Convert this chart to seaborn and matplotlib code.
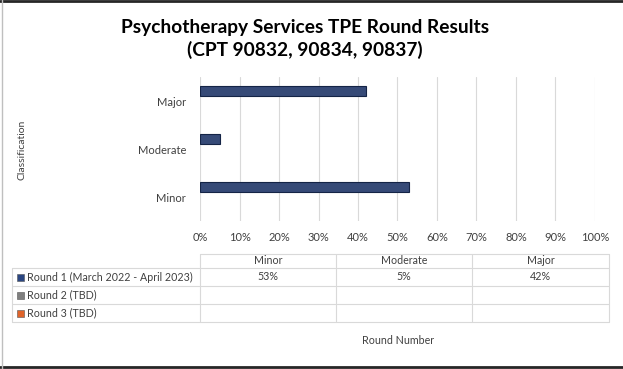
import matplotlib
matplotlib.use("Agg")
import matplotlib.pyplot as plt
from matplotlib.lines import Line2D
from matplotlib.ticker import PercentFormatter
import seaborn as sns
import pandas as pd
import numpy as np

# data
categories = ["Minor", "Moderate", "Major"]
rounds = ["Round 1 (March 2022 - April 2023)", "Round 2 (TBD)", "Round 3 (TBD)"]
round1 = [53, 5, 42]
round2 = [np.nan, np.nan, np.nan]
round3 = [np.nan, np.nan, np.nan]
round_colors = ["#2b4682", "#7f7f7f", "#e0642a"]

df = pd.DataFrame({
    "Classification": categories * 3,
    "Round": [rounds[0]] * 3 + [rounds[1]] * 3 + [rounds[2]] * 3,
    "Pct": round1 + round2 + round3,
})

sns.set_theme(style="white")
plt.rcParams["font.family"] = ["Lato", "DejaVu Sans"]

W, H = 623, 369
fig = plt.figure(figsize=(W / 100, H / 100), dpi=100)
ax = fig.add_axes([200 / W, 1 - 221 / H, 395 / W, 144 / H])

sns.barplot(data=df, y="Classification", x="Pct", hue="Round",
            order=categories[::-1], hue_order=rounds, palette=round_colors,
            width=0.63, orient="h", edgecolor="#142446", linewidth=0.8,
            legend=False, ax=ax)

ax.set_xlim(0, 100)
ax.set_xticks(range(0, 101, 10))
ax.xaxis.set_major_formatter(PercentFormatter(decimals=0))
ax.grid(axis="x", color="#d9d9d9", linewidth=0.8)
for s in ax.spines.values():
    s.set_visible(False)
ax.set_xlabel("")
ax.set_ylabel("")
ax.tick_params(axis="x", labelsize=8, colors="#404040", pad=8, length=0)
ax.tick_params(axis="y", labelsize=8, colors="#404040", pad=10, length=0)

fig.text(22 / W, 1 - 150 / H, "Classification", rotation=90, ha="center",
         va="center", fontsize=7.5, color="#404040")
fig.text(305 / W, 1 - 27 / H, "Psychotherapy Services TPE Round Results",
         ha="center", va="center", fontsize=13.8, fontweight="bold", color="black")
fig.text(305 / W, 1 - 50 / H, "(CPT 90832, 90834, 90837)",
         ha="center", va="center", fontsize=13.8, fontweight="bold", color="black")

# data table below the chart
col_x = [12, 200, 336, 472, 609]
row_y = [254, 268, 286, 304, 322]
grid_c = "#d9d9d9"
tsize = 7.7


def hline(y, x0, x1):
    fig.add_artist(Line2D([x0 / W, x1 / W], [1 - y / H, 1 - y / H],
                          color=grid_c, linewidth=0.8))


def vline(x, y0, y1):
    fig.add_artist(Line2D([x / W, x / W], [1 - y0 / H, 1 - y1 / H],
                          color=grid_c, linewidth=0.8))


hline(row_y[0], col_x[1], col_x[-1])
for y in row_y[1:]:
    hline(y, col_x[0], col_x[-1])
vline(col_x[0], row_y[1], row_y[-1])
for x in col_x[1:]:
    vline(x, row_y[0], row_y[-1])

for i, cat in enumerate(categories):
    cx = (col_x[i + 1] + col_x[i + 2]) / 2
    fig.text(cx / W, 1 - (row_y[0] + row_y[1]) / 2 / H, cat, ha="center",
             va="center", fontsize=tsize, color="#404040")

series = [round1, round2, round3]
for r, (name, vals, col) in enumerate(zip(rounds, series, round_colors)):
    cy = 1 - (row_y[r + 1] + row_y[r + 2]) / 2 / H
    fig.patches.append(plt.Rectangle((17 / W, cy - 3.5 / H), 7 / W, 7 / H,
                                     transform=fig.transFigure,
                                     facecolor=col, edgecolor="#555555",
                                     linewidth=0.4))
    fig.text(27 / W, cy, name, ha="left", va="center", fontsize=tsize,
             color="#404040")
    for i, v in enumerate(vals):
        if not np.isnan(v):
            cx = (col_x[i + 1] + col_x[i + 2]) / 2
            fig.text(cx / W, cy, f"{v:.0f}%", ha="center", va="center",
                     fontsize=tsize, color="#404040")

fig.text(398 / W, 1 - 341 / H, "Round Number", ha="center", va="center",
         fontsize=tsize, color="#404040")

# chart frame
fig.add_artist(Line2D([0, 1], [1 - 1 / H, 1 - 1 / H], color="#262626", linewidth=2))
fig.add_artist(Line2D([0, 1], [1 - 367 / H, 1 - 367 / H], color="#262626", linewidth=2))
fig.add_artist(Line2D([2 / W, 2 / W], [0, 1], color="#bfbfbf", linewidth=1))

fig.savefig("out.png", dpi=100)
